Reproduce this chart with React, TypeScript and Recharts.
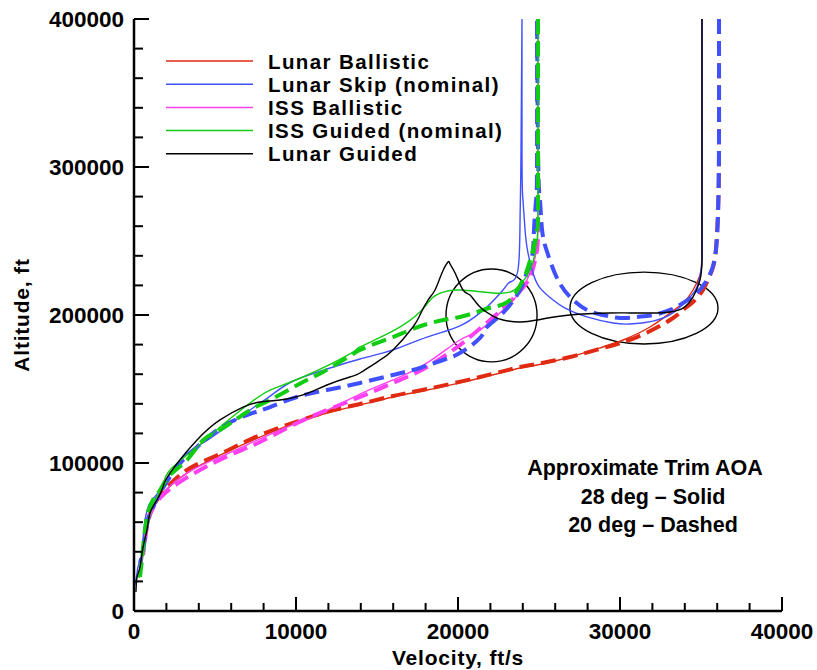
import { LineChart, Line, XAxis, YAxis, ReferenceArea, Legend, Customized } from 'recharts'

type Pt = { v: number; h: number }
const pts = (rows: number[][]): Pt[] => rows.map(([v, h]) => ({ v, h }))

// velocity ft/s, altitude ft — 28 deg trim (solid) and 20 deg trim (dashed)
const LUNAR_BALLISTIC_28 = pts([
  [35060, 400000], [35060, 277700], [35060, 237200], [34940, 227000], [34510, 216900],
  [33890, 208100], [33090, 201400], [31850, 191900], [30190, 183100], [28950, 178400],
  [26920, 171600], [24880, 166200], [23830, 164200], [21360, 157400], [20120, 154100],
  [18090, 149300], [15990, 144600], [13950, 139200], [11910, 133800],
  [9630, 125700], [7350, 115500], [5310, 105400], [3270, 93200], [1790, 79700],
  [1170, 70300], [860, 61500], [680, 50000], [560, 39200], [490, 32400],
])

const LUNAR_BALLISTIC_20 = pts([
  [36110, 400000], [36110, 311500], [36050, 268900], [35870, 239200], [35560, 227000],
  [35120, 216900], [34510, 208800], [33890, 203400], [33090, 196600], [31050, 185100],
  [28950, 177700], [26920, 171600], [24880, 166900], [23830, 164900], [21360, 158100],
  [18090, 150000], [15990, 145300], [13950, 139900], [11910, 134500], [9630, 126400],
  [7350, 116900], [5310, 106100], [3270, 95300], [1790, 80400], [1170, 70300],
  [860, 61500], [680, 50000], [560, 41200],
])

const LUNAR_SKIP_28 = pts([
  [35060, 400000], [35060, 277700], [35060, 237200], [34750, 218900], [34140, 210100],
  [33270, 201400], [32040, 195900], [30620, 193900], [29570, 194600], [27960, 198700],
  [26610, 204700], [25870, 210100], [25060, 218300], [24630, 228400], [24320, 241900],
  [24140, 257400], [24010, 277700], [23950, 311500], [23950, 400000], [23890, 311500],
  [23830, 264200], [23700, 230400], [23210, 222300], [22780, 216900], [21790, 205400],
  [21360, 201400], [20120, 192600], [18090, 185100], [15990, 176400], [13950, 170300],
  [11910, 163500], [9820, 155400], [8400, 145200], [6360, 129700], [4260, 113500],
  [2840, 102000], [1610, 81800], [990, 73000], [680, 61500], [560, 48000],
  [490, 39200], [250, 29700], [190, 25700], [60, 17600],
])

const LUNAR_SKIP_20 = pts([
  [36110, 400000], [36110, 311500], [36050, 268900], [35870, 239200], [35370, 223700],
  [34750, 214900], [33890, 208100], [33090, 203400], [32040, 200000], [31050, 198700],
  [30000, 198000], [28950, 200000], [27960, 203400], [26920, 212200], [26110, 225000],
  [25500, 242600], [25190, 257400], [25060, 277700], [24940, 311500], [24880, 400000],
  [24880, 311500], [24820, 277700], [24690, 257400], [24570, 239200], [24200, 227000],
  [23830, 216900], [22780, 201400], [21790, 191900], [21360, 184500], [20120, 174300],
  [19080, 169600], [17650, 164200], [15990, 159500], [13950, 154100], [11910, 149300],
  [10060, 144600], [8400, 137800], [6980, 132400], [5310, 123700], [3890, 110800],
  [2650, 97300], [1610, 79700], [1170, 70300], [860, 61500], [680, 50000],
  [560, 41200], [370, 32400],
])

const ISS_BALLISTIC_28 = pts([
  [24940, 400000], [24940, 277700], [24880, 246000], [24630, 233800], [24260, 223700],
  [23830, 215500], [22780, 203400], [21360, 189900], [20120, 183100], [18090, 167600],
  [15990, 156100], [13950, 146600], [11300, 132400], [9450, 124300],
  [7350, 114200], [5310, 104100], [3270, 93200], [1790, 79700], [1170, 70300],
  [860, 61500], [680, 50000], [560, 39200], [490, 32400], [370, 26400],
])

const ISS_BALLISTIC_20 = pts([
  [24940, 400000], [24940, 277700], [24880, 243900], [24570, 229100], [24140, 220300],
  [23210, 208800], [21980, 196600], [20740, 185100], [20120, 179700], [18090, 164900],
  [15990, 154100], [13950, 144600], [11910, 135800], [9820, 125700], [7780, 114200],
  [5930, 105400], [4070, 95300], [2840, 87200], [1790, 78400], [1170, 69600],
  [860, 60100], [680, 48000], [560, 37800],
])

const ISS_GUIDED_28 = pts([
  [24940, 400000], [24940, 277700], [24880, 250700], [24750, 241900], [24450, 230400],
  [23830, 220300], [23210, 215500], [22160, 214900], [20120, 216900], [19080, 215500],
  [18400, 211500], [17650, 202000], [15990, 189200], [13950, 178400], [13330, 173700],
  [10430, 158100], [8400, 149300], [7160, 140500], [5310, 124300], [3890, 110800],
  [2220, 95300], [1790, 85100], [1300, 75000], [990, 64900], [740, 52700],
  [560, 41200], [430, 31100], [310, 22300],
])

const ISS_GUIDED_20 = pts([
  [24940, 400000], [24940, 277700], [24880, 257400], [24630, 244000], [24260, 230400],
  [24010, 223700], [23210, 210100], [22160, 205400], [21170, 202000], [20120, 198700],
  [19080, 196600], [18090, 193900], [17040, 189900], [15990, 185100], [15000, 181100],
  [13950, 176400], [13330, 172300], [11670, 161500], [10430, 154700], [8400, 142600],
  [6980, 134500], [5310, 122300], [4260, 115500], [3270, 102000], [2220, 91900],
  [1610, 81800], [1170, 75000], [860, 66200], [680, 54700], [560, 43200],
  [490, 34500], [370, 23000],
])

const LUNAR_GUIDED_28 = pts([
  [35060, 400000], [35060, 277700], [35060, 237200], [34940, 223700], [34510, 212200],
  [33890, 204700], [33090, 202000], [32290, 201400], [30620, 201400], [29380, 201400],
  [26910, 200000], [24880, 196600], [23830, 195300], [22780, 196600], [22160, 199300],
  [21360, 205400], [20740, 213500], [20310, 216900], [19820, 228400], [19510, 234500],
  [19380, 235800], [19010, 228400], [18580, 216900], [18150, 210100], [17650, 200000],
  [17220, 191900], [15990, 176400], [15000, 168200], [13950, 160800], [13330, 158100],
  [11910, 152700], [10430, 146000], [9010, 142600], [7780, 141200], [6730, 137800],
  [5310, 129100], [3890, 115500], [2220, 93200], [1790, 83800], [1420, 75000],
  [990, 66200], [800, 54700], [560, 43200], [370, 29700], [190, 23000], [120, 12800],
])

// highlighted regions: centre velocity/altitude and half-extents
const SKIP_REGIONS = [
  { v: 22070, h: 199700, dv: 2810, dh: 31400 },
  { v: 31480, h: 204700, dv: 4570, dh: 24300 },
]

const X_TICKS = Array.from({ length: 21 }, (_, i) => i * 2000)
const Y_TICKS = Array.from({ length: 21 }, (_, i) => i * 20000)

const LEGEND_NAMES = ['Lunar Ballistic', 'Lunar Skip (nominal)', 'ISS Ballistic', 'ISS Guided (nominal)', 'Lunar Guided']
const NOTE_LINES = ['Approximate Trim AOA', '28 deg \u2013 Solid', '20 deg \u2013 Dashed']

const RED = '#e02a12'
const BLUE = '#4050ff'
const MAGENTA = '#ff40f0'
const GREEN = '#12cc12'
const BLACK = '#000000'
const LEGEND_COLORS = [RED, BLUE, MAGENTA, GREEN, BLACK]

const SERIES = [
  { key: 'lb28', data: LUNAR_BALLISTIC_28, color: RED, dashed: false },
  { key: 'lb20', data: LUNAR_BALLISTIC_20, color: RED, dashed: true },
  { key: 'ib28', data: ISS_BALLISTIC_28, color: MAGENTA, dashed: false },
  { key: 'ib20', data: ISS_BALLISTIC_20, color: MAGENTA, dashed: true },
  { key: 'ls28', data: LUNAR_SKIP_28, color: BLUE, dashed: false },
  { key: 'ls20', data: LUNAR_SKIP_20, color: BLUE, dashed: true },
  { key: 'ig28', data: ISS_GUIDED_28, color: GREEN, dashed: false },
  { key: 'ig20', data: ISS_GUIDED_20, color: GREEN, dashed: true },
  { key: 'lg28', data: LUNAR_GUIDED_28, color: BLACK, dashed: false },
]

const FONT = '"Liberation Sans", Arial, Helvetica, sans-serif'
const labelStyle = { fontFamily: FONT, fontWeight: 700, fontSize: 22.5, fill: '#000' }
const titleStyle = { ...labelStyle, fontSize: 21, letterSpacing: 0.8 }
const legendStyle = { ...labelStyle, fontSize: 20.5, letterSpacing: 1.4 }
const noteStyle = { ...labelStyle, fontSize: 21.5 }
const TICK_GAP = 10

function XTick(props: any) {
  const { x, y, payload } = props
  const major = payload.value % 10000 === 0
  const axisY = y - TICK_GAP
  return (
    <g>
      <line x1={x} x2={x} y1={axisY} y2={axisY - (major ? 14 : 8)} stroke="#000" strokeWidth={2} />
      {major && (
        <text x={x} y={axisY + 28} textAnchor="middle" style={labelStyle}>
          {payload.value}
        </text>
      )}
    </g>
  )
}

function YTick(props: any) {
  const { x, y, payload } = props
  const major = payload.value % 100000 === 0
  const axisX = x + TICK_GAP
  return (
    <g>
      <line x1={axisX} x2={axisX + (major ? 15 : 9)} y1={y} y2={y} stroke="#000" strokeWidth={2} />
      {major && (
        <text x={axisX - 10} y={y + 8} textAnchor="end" style={labelStyle}>
          {payload.value}
        </text>
      )}
    </g>
  )
}

function LegendBox() {
  return (
    <svg width={817} height={200} style={{ position: 'absolute', left: 0, top: 0, overflow: 'visible' }}>
      {LEGEND_NAMES.map((name, i) => {
        const y = 61 + i * 23.2
        return (
          <g key={name}>
            <line x1={166} x2={253} y1={y} y2={y} stroke={LEGEND_COLORS[i]} strokeWidth={1.5} />
            <text x={268} y={y + 7.5} style={legendStyle}>
              {name}
            </text>
          </g>
        )
      })}
    </svg>
  )
}

function Notes() {
  return (
    <g>
      <text x={645} y={475} textAnchor="middle" style={noteStyle}>{NOTE_LINES[0]}</text>
      <text x={653} y={504} textAnchor="middle" style={noteStyle}>{NOTE_LINES[1]}</text>
      <text x={653} y={532} textAnchor="middle" style={noteStyle}>{NOTE_LINES[2]}</text>
      <text x={458} y={665} textAnchor="middle" style={titleStyle}>Velocity, ft/s</text>
      <text x={29} y={315} textAnchor="middle" transform="rotate(-90 29 315)" style={titleStyle}>
        Altitude, ft
      </text>
    </g>
  )
}

export default function App() {
  return (
    <div style={{ position: 'absolute', left: 0, top: 0, background: '#fff' }}>
      <LineChart width={817} height={670} margin={{ top: 19, right: 35, bottom: 0, left: 0 }}>
        <XAxis
          type="number"
          dataKey="v"
          domain={[0, 40000]}
          ticks={X_TICKS}
          interval={0}
          height={59}
          allowDataOverflow
          axisLine={{ stroke: '#000', strokeWidth: 2.5 }}
          tickLine={false}
          tickSize={0}
          tickMargin={TICK_GAP}
          tick={(p: any) => <XTick {...p} />}
        />
        <YAxis
          type="number"
          dataKey="h"
          domain={[0, 400000]}
          ticks={Y_TICKS}
          interval={0}
          width={134}
          allowDataOverflow
          axisLine={{ stroke: '#000', strokeWidth: 2.5 }}
          tickLine={false}
          tickSize={0}
          tickMargin={TICK_GAP}
          tick={(p: any) => <YTick {...p} />}
        />
        {SKIP_REGIONS.map((r, i) => (
          <ReferenceArea
            key={i}
            x1={r.v - r.dv}
            x2={r.v + r.dv}
            y1={r.h - r.dh}
            y2={r.h + r.dh}
            shape={(p: any) => (
              <ellipse
                cx={p.x + p.width / 2}
                cy={p.y + p.height / 2}
                rx={p.width / 2}
                ry={p.height / 2}
                fill="none"
                stroke="#000"
                strokeWidth={1.4}
              />
            )}
          />
        ))}
        {SERIES.map((s) => (
          <Line
            key={s.key}
            data={s.data}
            dataKey="h"
            type="natural"
            stroke={s.color}
            strokeWidth={s.dashed ? 4 : 1.4}
            strokeDasharray={s.dashed ? '15 7' : undefined}
            strokeLinejoin="round"
            dot={false}
            activeDot={false}
            legendType="none"
            isAnimationActive={false}
          />
        ))}
        <Customized component={<Notes />} />
        <Legend
          layout="horizontal"
          verticalAlign="middle"
          align="center"
          wrapperStyle={{ left: 0, top: 0, width: 817, height: 200 }}
          content={() => <LegendBox />}
        />
      </LineChart>
    </div>
  )
}
